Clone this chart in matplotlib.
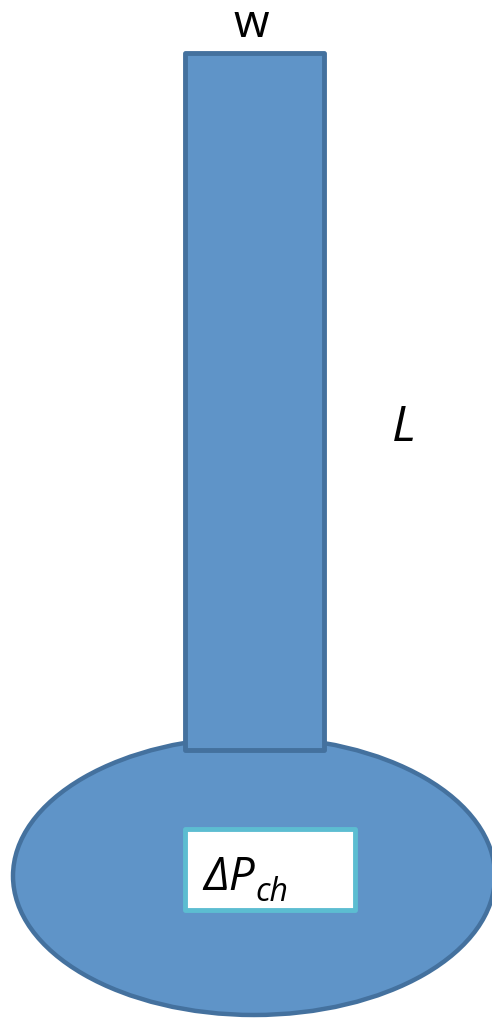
import matplotlib
matplotlib.use("Agg")
import matplotlib.pyplot as plt
from matplotlib.patches import Rectangle, Ellipse

labels = ["w", "L", "ΔP", "ch"]

W, H = 492, 1018
fig = plt.figure(figsize=(W / 100, H / 100), dpi=100)
ax = fig.add_axes([0, 0, 1, 1])
ax.set_xlim(0, W)
ax.set_ylim(H, 0)
ax.axis("off")

fill = "#5f94c8"
edge = "#44719e"

ell = Ellipse((254, 876), 482, 278, facecolor=fill, edgecolor=edge, linewidth=3.2, zorder=1)
ax.add_patch(ell)
rect = Rectangle((185, 53), 139, 697, facecolor=fill, edgecolor=edge, linewidth=3.5,
                 joinstyle="round", zorder=2)
ax.add_patch(rect)
box = Rectangle((185, 829), 170, 81, facecolor="white", edgecolor="#5cbdd1",
                linewidth=3.5, joinstyle="round", zorder=3)
ax.add_patch(box)

fam = ["Open Sans", "Noto Sans", "DejaVu Sans"]
ax.text(251, 37, labels[0], fontsize=33, family=fam, ha="center", va="baseline",
        color="black", zorder=4)
ax.text(404, 441, labels[1], fontsize=36, family=fam, style="italic",
        ha="center", va="baseline", color="black", zorder=4)
ax.text(203, 890, labels[2], fontsize=33, family=fam, style="italic",
        ha="left", va="baseline", color="black", zorder=4)
ax.text(255, 901, labels[3], fontsize=23, family=fam, style="italic",
        ha="left", va="baseline", color="black", zorder=4)

fig.savefig("out.png", dpi=100)
